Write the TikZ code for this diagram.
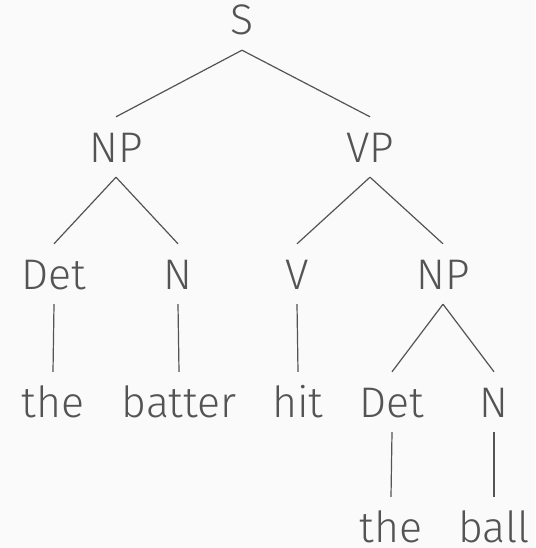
\documentclass[tikz,border=0pt]{standalone}
\usepackage{fontspec}
\setmainfont{Fira Sans}[UprightFont={* Light}]
\definecolor{treegray}{HTML}{545454}
\definecolor{paper}{HTML}{FAFAFA}
\tikzset{
  cat/.style={anchor=base,text=treegray,font=\fontsize{42.8}{50}\selectfont,
    text height=30pt,text depth=0pt,inner xsep=0pt,inner ysep=15pt},
  branch/.style={draw=treegray,line width=1.2pt}
}
\begin{document}
\begin{tikzpicture}[x=1pt,y=-1pt]
\fill[paper] (0,0) rectangle (535,548);
\useasboundingbox (0,0) rectangle (535,548);
\node[cat] (s) at (242,35) {S};
\node[cat] (np) at (116,162) {NP};
\node[cat] (vp) at (370,162) {VP};
\node[cat] (det) at (54,289) {Det};
\node[cat] (n) at (178,289) {N};
\node[cat] (v) at (297,289) {V};
\node[cat] (npb) at (443,289) {NP};
\node[cat] (the) at (53,417) {the};
\node[cat] (batter) at (179,417) {batter};
\node[cat] (hit) at (298,417) {hit};
\node[cat] (detb) at (392,417) {Det};
\node[cat] (nb) at (494,417) {N};
\node[cat] (theb) at (391,542) {the};
\node[cat] (ball) at (494,542) {ball};
\foreach \p/\c in {s/np, s/vp, np/det, np/n, vp/v, vp/npb, det/the, n/batter, v/hit, npb/detb, npb/nb, detb/theb, nb/ball} {
  \draw[branch] (\p.south) -- (\c.north);
}
\end{tikzpicture}
\end{document}
